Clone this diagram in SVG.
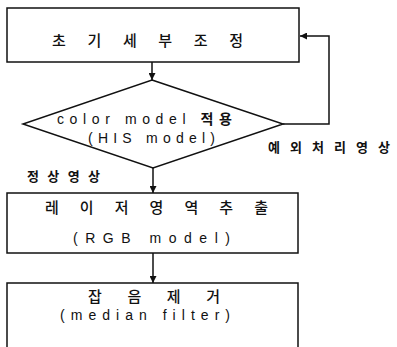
<svg xmlns="http://www.w3.org/2000/svg" width="397" height="347" viewBox="0 0 397 347">
  <style>
    .box { fill: #fff; stroke: #111; stroke-width: 1.5; }
    .line { fill: none; stroke: #111; stroke-width: 1.5; }
    .ko { font-family: "Noto Sans CJK KR", "Liberation Sans", sans-serif; font-size: 15px; font-weight: 500; fill: #111; }
    .kob { font-family: "Noto Sans CJK KR", "Liberation Sans", sans-serif; font-size: 13px; font-weight: bold; fill: #111; }
    .en { font-family: "Liberation Sans", "Noto Sans CJK KR", sans-serif; font-size: 14px; fill: #111; }
  </style>
  <defs>
    <marker id="arrow" viewBox="0 0 10 10" refX="10" refY="5" markerWidth="7" markerHeight="7" markerUnits="userSpaceOnUse" orient="auto">
      <path d="M0,0 L10,5 L0,10 z" fill="#111"/>
    </marker>
  </defs>

  <g id="connectors">
    <line class="line" x1="152" y1="62" x2="152" y2="80" marker-end="url(#arrow)"/>
    <line class="line" x1="153" y1="168" x2="153" y2="193" marker-end="url(#arrow)"/>
    <line class="line" x1="153" y1="253" x2="153" y2="283" marker-end="url(#arrow)"/>
    <polyline class="line" points="283,124 329,124 329,36 300,36" marker-end="url(#arrow)"/>
  </g>

  <g id="node-init">
    <rect class="box" x="7" y="8" width="292" height="54"/>
    <text class="ko" x="52" y="46" textLength="191" lengthAdjust="spacing">초기세부조정</text>
  </g>

  <g id="node-decision">
    <polygon class="box" points="152,80 283,124 153,168 23,124"/>
    <text class="en" x="57" y="124" textLength="175" lengthAdjust="spacing">color model <tspan font-weight="bold">적용</tspan></text>
    <text class="en" x="88" y="143" textLength="127" lengthAdjust="spacing">(HIS model)</text>
  </g>

  <g id="label-exception">
    <text class="kob" x="268" y="152" textLength="122" lengthAdjust="spacing">예외처리영상</text>
  </g>
  <g id="label-normal">
    <text class="kob" x="27" y="181" textLength="73" lengthAdjust="spacing">정상영상</text>
  </g>

  <g id="node-laser">
    <rect class="box" x="7" y="193" width="291" height="60"/>
    <text class="ko" x="45" y="213" textLength="223" lengthAdjust="spacing">레이저영역추출</text>
    <text class="en" x="73" y="243" textLength="157" lengthAdjust="spacing">(RGB model)</text>
  </g>

  <g id="node-noise">
    <path class="line" d="M7,347 L7,283 L298,283 L298,347"/>
    <text class="ko" x="88" y="302" textLength="132" lengthAdjust="spacing">잡음제거</text>
    <text class="en" x="60" y="320" textLength="170" lengthAdjust="spacing">(median filter)</text>
  </g>
</svg>
